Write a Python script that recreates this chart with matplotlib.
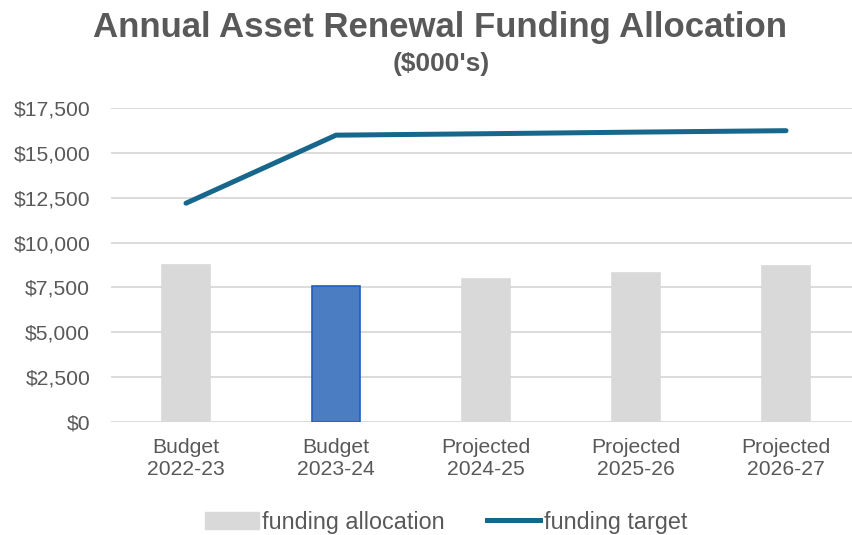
import matplotlib
matplotlib.use("Agg")
import matplotlib.pyplot as plt
from matplotlib.ticker import FuncFormatter
from matplotlib.patches import Patch
from matplotlib.lines import Line2D

plt.rcParams['font.family'] = ['Liberation Sans', 'DejaVu Sans']

categories = ["Budget\n2022-23", "Budget\n2023-24", "Projected\n2024-25",
              "Projected\n2025-26", "Projected\n2026-27"]
funding_allocation = [8750, 7600, 7970, 8320, 8710]
funding_target = [12200, 16000, 16080, 16170, 16250]
y_ticks = [0, 2500, 5000, 7500, 10000, 12500, 15000, 17500]

text_grey = "#595959"
bar_grey = "#D9D9D9"
highlight_fill = "#4A7DC2"
highlight_edge = "#1F5FC0"
line_color = "#17668C"

fig = plt.figure(figsize=(8.53, 5.35), dpi=100)
ax = fig.add_axes([111 / 853, 113.3 / 535, 742 / 853, 313.4 / 535])

x = list(range(len(categories)))
fills = [bar_grey] * len(categories)
edges = [bar_grey] * len(categories)
fills[1] = highlight_fill
edges[1] = highlight_edge
ax.bar(x, funding_allocation, width=0.32, color=fills, edgecolor=edges,
       linewidth=1.2, zorder=2)
ax.plot(x, funding_target, color=line_color, linewidth=3.6,
        solid_capstyle='round', zorder=3)

ax.set_ylim(0, 17500)
ax.set_xlim(-0.5, -0.5 + 742 / 150)
ax.set_yticks(y_ticks)
ax.yaxis.set_major_formatter(FuncFormatter(lambda v, p: f"${v:,.0f}"))
ax.set_xticks(x)
ax.set_xticklabels(categories)
ax.grid(axis='y', color="#D9D9D9", linewidth=1.3, zorder=0)
ax.set_axisbelow(True)
for s in ax.spines.values():
    s.set_visible(False)
ax.tick_params(axis='both', length=0, colors=text_grey, labelsize=15.2)
ax.tick_params(axis='y', pad=15)
ax.tick_params(axis='x', pad=12)
for lbl in ax.get_xticklabels():
    lbl.set_linespacing(1.15)

fig.text(440 / 853, 1 - 27 / 535, "Annual Asset Renewal Funding Allocation",
         ha='center', va='center', fontsize=25, fontweight='bold',
         color=text_grey)
fig.text(441 / 853, 1 - 64 / 535, "($000's)", ha='center', va='center',
         fontsize=19, fontweight='bold', color=text_grey)

handles = [Patch(facecolor=bar_grey, edgecolor=bar_grey),
           Line2D([0], [0], color=line_color, linewidth=3.6)]
fig.legend(handles, ["funding allocation", "funding target"],
           loc='center', bbox_to_anchor=(446 / 853, 1 - 522 / 535), ncol=2,
           frameon=False, fontsize=16.8, labelcolor=text_grey,
           handlelength=2.3, handletextpad=0.15, columnspacing=1.8)

fig.savefig("out.png", dpi=100)
